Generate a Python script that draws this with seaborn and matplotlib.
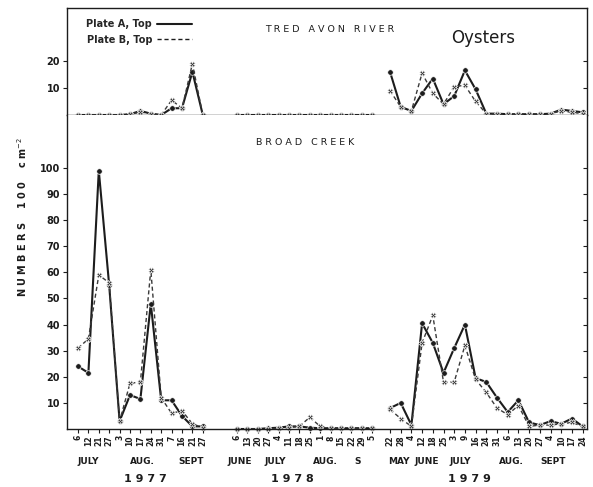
import matplotlib
matplotlib.use("Agg")
import matplotlib.pyplot as plt
import matplotlib.transforms as mtransforms
from matplotlib.lines import Line2D
import numpy as np
import pandas as pd
import seaborn as sns

# ---------------- data ----------------
days_1977 = ["6", "12", "21", "27", "3", "10", "17", "24", "31", "7", "16", "21", "27"]
days_1978 = ["6", "13", "20", "27", "4", "11", "18", "25", "1", "8", "15", "22", "29", "5"]
days_1979 = ["22", "28", "4", "12", "18", "25", "3", "9", "16", "24", "31", "6", "13", "20",
             "27", "4", "10", "17", "24"]

# Tred Avon River (top panel)
tred_a_1977 = [0, 0, 0, 0, 0, 0.3, 1.5, 0.5, 0, 2.5, 2.5, 16, 0]
tred_b_1977 = [0, 0, 0, 0, 0, 0.3, 1, 0.5, 0, 5.5, 2.5, 19, 0]
tred_a_1978 = [0, 0, 0, 0, 0, 0, 0, 0, 0, 0, 0, 0, 0, 0]
tred_b_1978 = [0, 0, 0, 0, 0, 0, 0, 0, 0, 0, 0, 0, 0, 0]
tred_a_1979 = [16, 3, 1.5, 8, 13.5, 4, 7, 16.5, 9.5, 0.5, 0.5, 0.3, 0.3, 0.3, 0.3, 0.5, 2, 1.5, 1]
tred_b_1979 = [9, 3, 1.5, 15.5, 8, 4, 10.5, 11, 5, 0.5, 0.3, 0.3, 0.3, 0.3, 0.3, 0.5, 1.5, 1, 0.5]

# Broad Creek (bottom panel)
broad_a_1977 = [24, 21.5, 99, 55, 3, 13, 11.5, 48, 11, 11, 5, 1, 1]
broad_b_1977 = [31, 34.5, 59, 56, 3, 17.5, 18, 61, 12, 6, 7, 2, 0.5]
broad_a_1978 = [0, 0, 0, 0.3, 0.5, 1, 1, 0.5, 0.3, 0.3, 0.3, 0.3, 0.3, 0.3]
broad_b_1978 = [0, 0, 0, 0, 0.3, 0.5, 1, 4.5, 1, 0.3, 0.3, 0.3, 0.3, 0.3]
broad_a_1979 = [8, 10, 1.5, 40.5, 33, 21.5, 31, 40, 19.5, 18, 12, 6.5, 11, 2.5, 1.5, 3, 2, 4, 1]
broad_b_1979 = [7.5, 4, 1, 33, 43.5, 18, 18, 32, 19, 14, 8, 5.5, 9, 1, 1.5, 1.5, 2, 2.5, 1]

months_1977 = ["JULY", "AUG.", "SEPT"]
months_1978 = ["JUNE", "JULY", "AUG.", "S"]
months_1979 = ["MAY", "JUNE", "JULY", "AUG.", "SEPT"]
years = ["1977", "1978", "1979"]

# ---------------- layout (x axis in layout units) ----------------
group_start = [78, 237, 390]
group_step = [10.4, 10.4, 10.7]
groups = [days_1977, days_1978, days_1979]


def positions(g):
    return [group_start[g] + i * group_step[g] for i in range(len(groups[g]))]


def build(site_series):
    rows = []
    for g, (a_vals, b_vals) in enumerate(site_series):
        xs = positions(g)
        for plate, vals in (("A", a_vals), ("B", b_vals)):
            for x, v in zip(xs, vals):
                rows.append({"x": x, "n": v, "plate": plate, "seg": f"{plate}{g}"})
    return pd.DataFrame(rows)


df_tred = build([(tred_a_1977, tred_b_1977), (tred_a_1978, tred_b_1978), (tred_a_1979, tred_b_1979)])
df_broad = build([(broad_a_1977, broad_b_1977), (broad_a_1978, broad_b_1978), (broad_a_1979, broad_b_1979)])

sns.set_theme(style="white")
plt.rcParams["font.family"] = ["DejaVu Sans"]

W, H = 593, 487
fig = plt.figure(figsize=(W / 100, H / 100), dpi=100)
left, right = 67 / W, 587 / W
ax_top = fig.add_axes([left, 1 - 115 / H, right - left, (115 - 8) / H])
ax_bot = fig.add_axes([left, 1 - 429 / H, right - left, (429 - 115) / H])

ink = "#1c1c1c"
for ax, df in ((ax_top, df_tred), (ax_bot, df_broad)):
    sns.lineplot(data=df, x="x", y="n", style="plate", units="seg", estimator=None,
                 dashes={"A": "", "B": (3, 2)}, markers={"A": "o", "B": "X"},
                 color=ink, legend=False, sort=False, ax=ax)
    for ln in ax.lines:
        ln.set_clip_on(False)
        if ln.get_linestyle() == "-":
            ln.set_linewidth(1.5)
            ln.set_markersize(4)
        else:
            ln.set_linewidth(1.0)
            ln.set_markersize(3.8)
            ln.set_color("#3a3a3a")
        ln.set_markeredgewidth(0.5)
    ax.set_xlim(67, 587)
    ax.set_xlabel("")
    ax.set_ylabel("")
    for s in ax.spines.values():
        s.set_color(ink)
        s.set_linewidth(1.0)
    ax.spines["right"].set_visible(False)

ax_top.set_ylim(0, 39.6)
ax_bot.set_ylim(0, 120.3)
ax_bot.spines["top"].set_visible(False)

all_pos = positions(0) + positions(1) + positions(2)
all_labels = days_1977 + days_1978 + days_1979
ax_bot.set_xticks(all_pos)
ax_bot.set_xticklabels(all_labels, rotation=90, fontsize=5.5, fontweight="bold")
ax_bot.tick_params(axis="x", bottom=True, direction="out", length=3, width=0.8,
                   pad=1.5, colors=ink)
ax_top.set_xticks(all_pos)
ax_top.tick_params(axis="x", bottom=True, labelbottom=False, direction="out",
                   length=2.5, width=0.8, colors=ink)

ax_top.set_yticks([10, 20])
ax_bot.set_yticks(list(range(10, 101, 10)))
for ax in (ax_top, ax_bot):
    ax.tick_params(axis="y", left=True, direction="out", length=3, width=0.8,
                   pad=2, labelsize=7, colors=ink)
    for t in ax.get_yticklabels():
        t.set_fontweight("bold")
    sec = ax.secondary_yaxis("right")
    sec.set_yticks(ax.get_yticks())
    sec.tick_params(axis="y", direction="in", length=3, width=0.8,
                    labelright=False, colors=ink)
    sec.spines["right"].set_color(ink)
    sec.spines["right"].set_linewidth(1.0)

# legend
handles = [Line2D([0], [0], color=ink, lw=1.5),
           Line2D([0], [0], color=ink, lw=1.0, dashes=(3, 2))]
leg = ax_top.legend(handles, ["Plate A, Top", "Plate B, Top"], loc="upper left",
                    bbox_to_anchor=(0.03, 0.93), frameon=False, markerfirst=False,
                    handlelength=3.6, handletextpad=0.5, labelspacing=0.55,
                    prop={"size": 7, "weight": "bold"}, borderaxespad=0)

# panel titles
ax_top.text(330, 0.80, "T R E D   A V O N   R I V E R", fontsize=6.8,
            transform=mtransforms.blended_transform_factory(ax_top.transData, ax_top.transAxes),
            ha="center", va="center", color=ink)
ax_top.text(483, 0.72, "Oysters", fontsize=12,
            transform=mtransforms.blended_transform_factory(ax_top.transData, ax_top.transAxes),
            ha="center", va="center", color=ink)
ax_bot.text(305, 0.914, "B R O A D   C R E E K", fontsize=6.8,
            transform=mtransforms.blended_transform_factory(ax_bot.transData, ax_bot.transAxes),
            ha="center", va="center", color=ink)

# y label
fig.text(22 / W, 1 - 217 / H, "N U M B E R S    1 0 0    c m$^{-2}$", rotation=90,
         ha="center", va="center", fontsize=7, fontweight="bold", color=ink)

# month and year labels
btr = mtransforms.blended_transform_factory(ax_bot.transData, fig.transFigure)
month_x = [88, 142, 191, 240, 275, 325, 358, 399, 427, 460, 511, 553]
for m, mx in zip(months_1977 + months_1978 + months_1979, month_x):
    ax_bot.text(mx, 1 - 462 / H, m, transform=btr, ha="center", va="center",
                fontsize=6.5, fontweight="bold", color=ink)
for yv, yx in zip(years, [145, 292, 469]):
    ax_bot.text(yx, 1 - 479 / H, " ".join(yv), transform=btr, ha="center", va="center",
                fontsize=8, fontweight="bold", color=ink)

fig.savefig("out.png", dpi=100)
